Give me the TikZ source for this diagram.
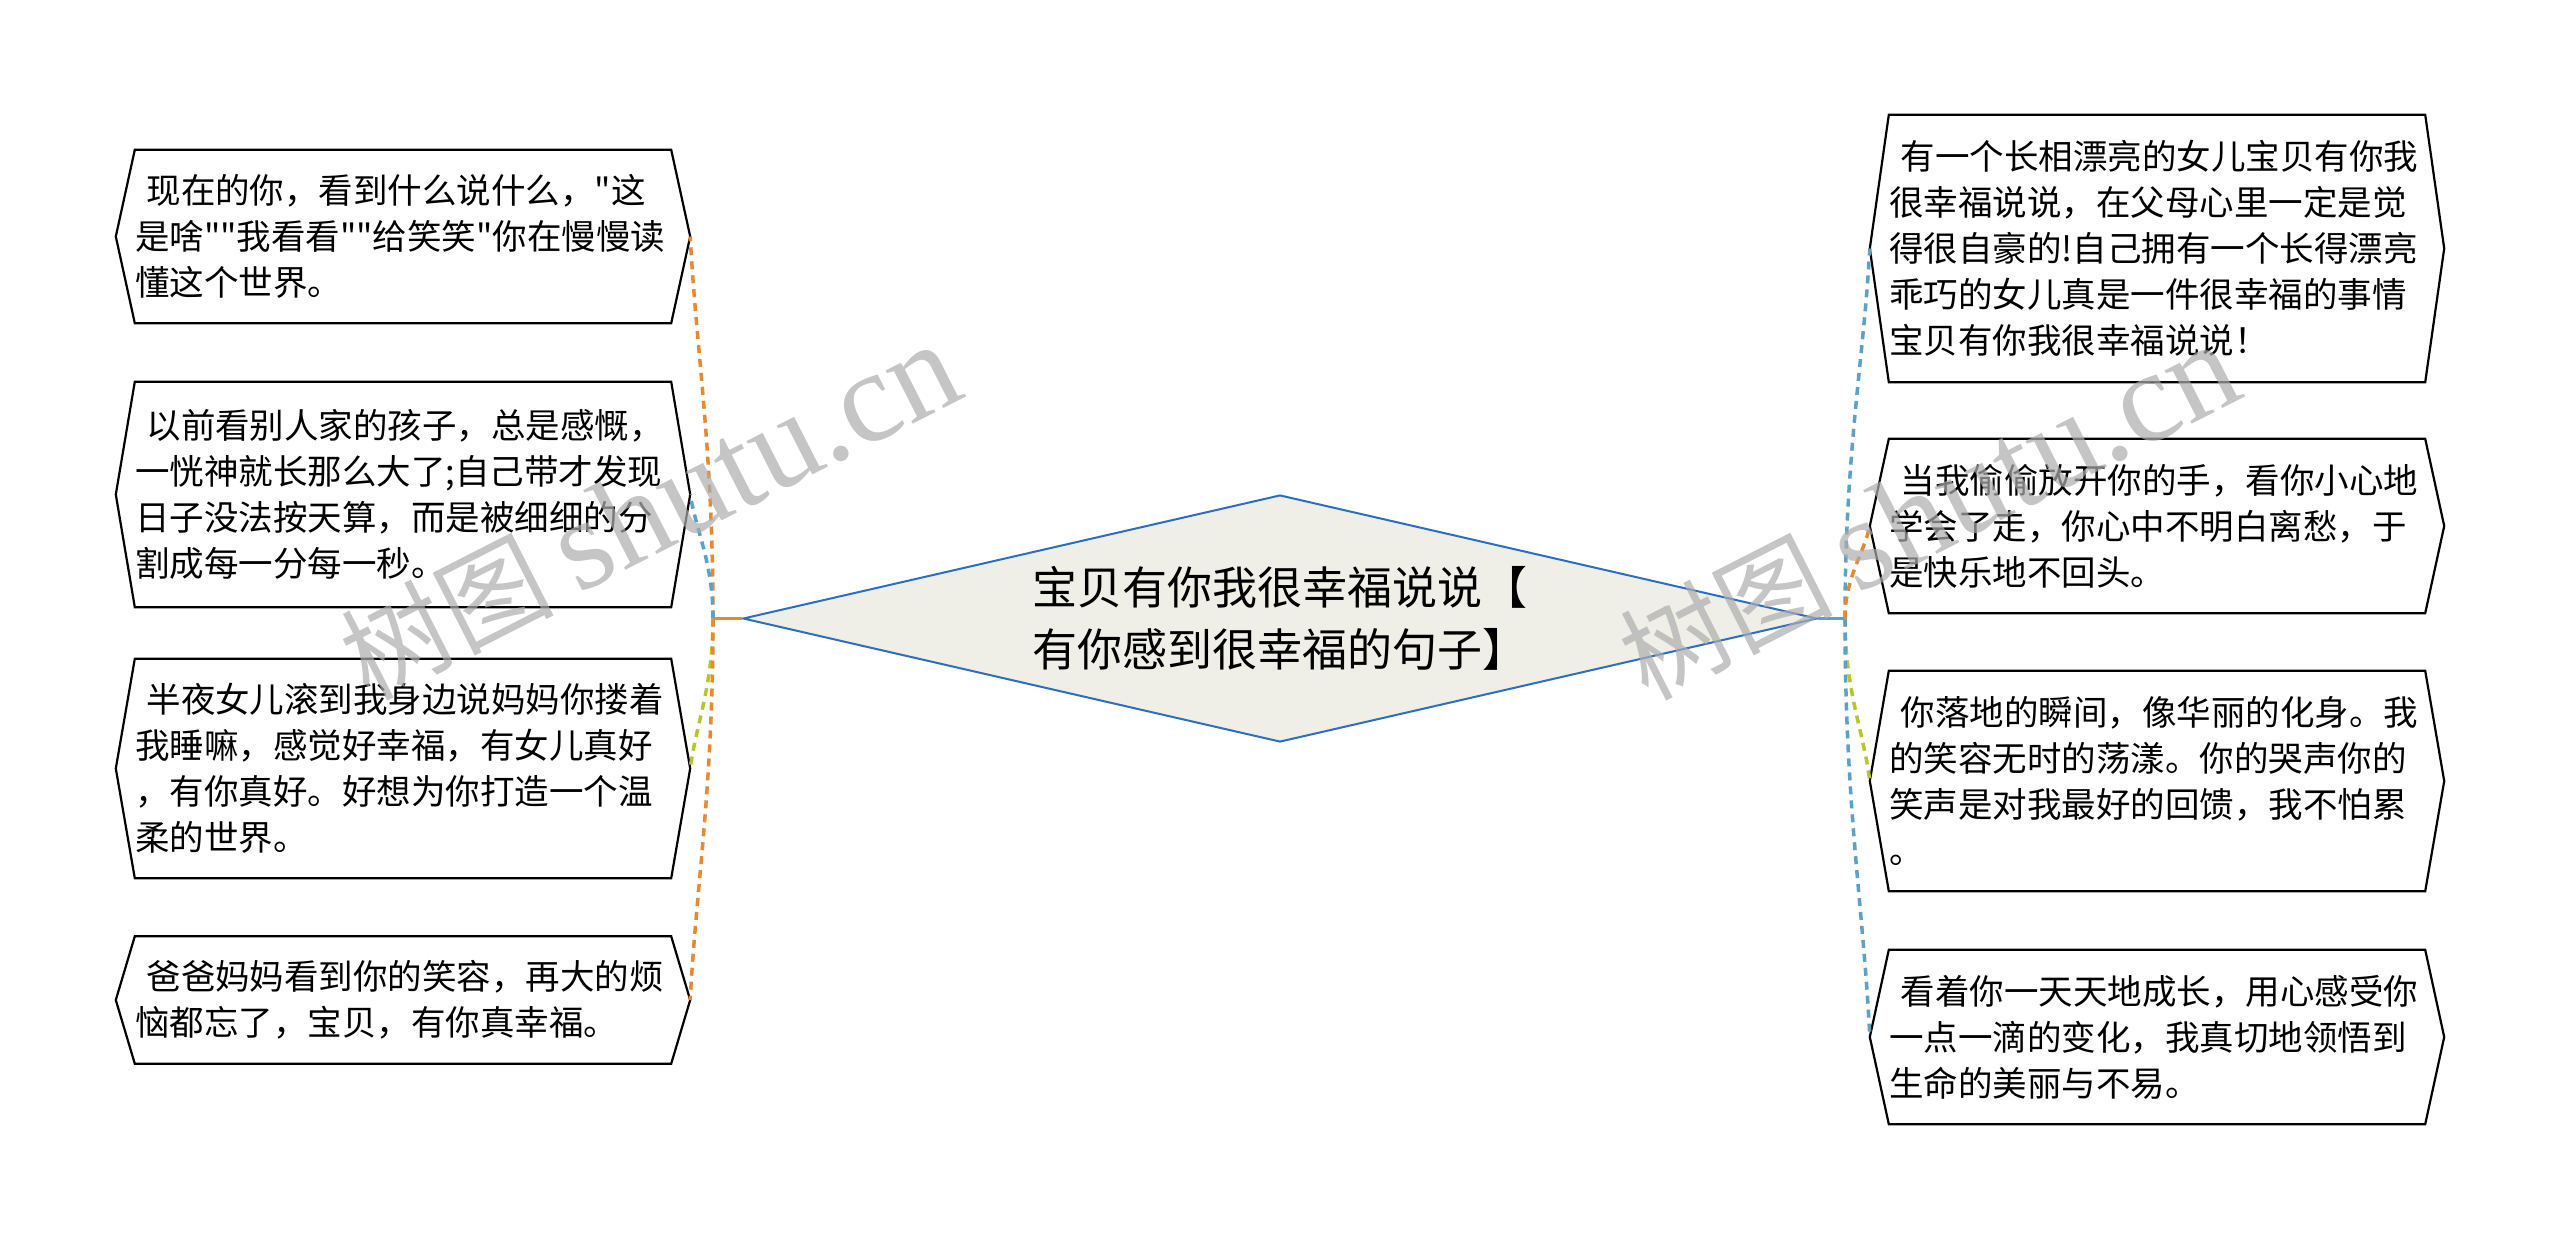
\documentclass[tikz,border=0pt]{standalone}
\usepackage{fontspec}
\usepackage{tikz}
\usetikzlibrary{shapes.geometric,calc}
\newfontfamily\cjk{Noto Sans CJK SC}[Ligatures=TeXOff]
\newfontfamily\wmserif{Liberation Serif}
\definecolor{linkorange}{RGB}{232,137,47}
\definecolor{linkblue}{RGB}{91,161,200}
\definecolor{linkgreen}{RGB}{184,198,40}
\definecolor{topicfill}{RGB}{239,239,232}
\definecolor{topicline}{RGB}{44,110,192}
\tikzset{
  leaf/.style={font=\cjk\fontsize{34.5}{46}\selectfont, align=left, text width=536pt,
    inner xsep=19pt, inner ysep=0pt, minimum height=#1},
  leafline/.style={draw=black, line width=2.2pt, line join=miter},
  link/.style={line width=3.5pt, dash pattern=on 8pt off 6pt},
  watermark/.style={text=black!32, text opacity=0.7, rotate=27}
}
\begin{document}
\begin{tikzpicture}[x=1pt,y=1pt,yscale=-1]
\useasboundingbox (0,0) rectangle (2560,1237);
\fill[white] (0,0) rectangle (2560,1237);

% centre topic
\node[diamond, draw=topicline, fill=topicfill, line width=2pt, aspect=4.33,
  minimum width=1074pt, minimum height=247pt, inner sep=0pt, align=center,
  font=\cjk\fontsize{45}{62}\selectfont] (main) at (1280,618.5)
  {宝贝有你我很幸福说说【\\有你感到很幸福的句子】};
\coordinate (hubL) at (713,618.5);
\coordinate (hubR) at (1845,618.5);

% left leaves
\node[leaf=173pt] (l1) at (403,236.5) {~现在的你，看到什么说什么，"这\\是啥""我看看""给笑笑"你在慢慢读\\懂这个世界。};
\node[leaf=225pt] (l2) at (403,494.5) {~以前看别人家的孩子，总是感慨，\\一恍神就长那么大了;自己带才发现\\日子没法按天算，而是被细细的分\\割成每一分每一秒。};
\node[leaf=219pt] (l3) at (403,768.5) {~半夜女儿滚到我身边说妈妈你搂着\\我睡嘛，感觉好幸福，有女儿真好\\，有你真好。好想为你打造一个温\\柔的世界。};
\node[leaf=127pt] (l4) at (403,1000) {~爸爸妈妈看到你的笑容，再大的烦\\恼都忘了，宝贝，有你真幸福。};

% right leaves
\node[leaf=267pt] (r1) at (2157,248.5) {~有一个长相漂亮的女儿宝贝有你我\\很幸福说说，在父母心里一定是觉\\得很自豪的!自己拥有一个长得漂亮\\乖巧的女儿真是一件很幸福的事情\\宝贝有你我很幸福说说！};
\node[leaf=174pt] (r2) at (2157,526) {~当我偷偷放开你的手，看你小心地\\学会了走，你心中不明白离愁，于\\是快乐地不回头。};
\node[leaf=220pt] (r3) at (2157,781) {~你落地的瞬间，像华丽的化身。我\\的笑容无时的荡漾。你的哭声你的\\笑声是对我最好的回馈，我不怕累\\。};
\node[leaf=174pt] (r4) at (2157,1037) {~看着你一天天地成长，用心感受你\\一点一滴的变化，我真切地领悟到\\生命的美丽与不易。};

% leaf outlines
\foreach \n in {l1,l2,l3,l4,r1,r2,r3,r4}
  \draw[leafline] ($(\n.north west)+(19,0)$) -- ($(\n.north east)+(-19,0)$) -- (\n.east)
    -- ($(\n.south east)+(-19,0)$) -- ($(\n.south west)+(19,0)$) -- (\n.west) -- cycle;

% connectors
\draw[linkorange, line width=3.5pt] (main.west) -- (hubL);
\draw[linkblue, line width=3.5pt] (main.east) -- (hubR);
\foreach \n/\c/\a/\b in {l1/linkorange/-172/114, l2/linkblue/-56/37, l3/linkgreen/68/-45, l4/linkorange/172/-115}
  \draw[link, draw=\c] (hubL) .. controls +(0,\a) and +(6,\b) .. (\n.east);
\foreach \n/\c/\a/\b in {r1/linkblue/-166/111, r2/linkorange/-41/28, r3/linkgreen/73/-49, r4/linkblue/189/-126}
  \draw[link, draw=\c] (hubR) .. controls +(0,\a) and +(-6,\b) .. (\n.west);

% watermarks
\node[watermark] (wm1) at (650,512) {\cjk\fontsize{106}{106}\selectfont 树图 \wmserif\fontsize{130}{130}\selectfont shutu.cn};
\node[watermark] (wm2) at (1929,512) {\cjk\fontsize{106}{106}\selectfont 树图 \wmserif\fontsize{130}{130}\selectfont shutu.cn};
\end{tikzpicture}
\end{document}
